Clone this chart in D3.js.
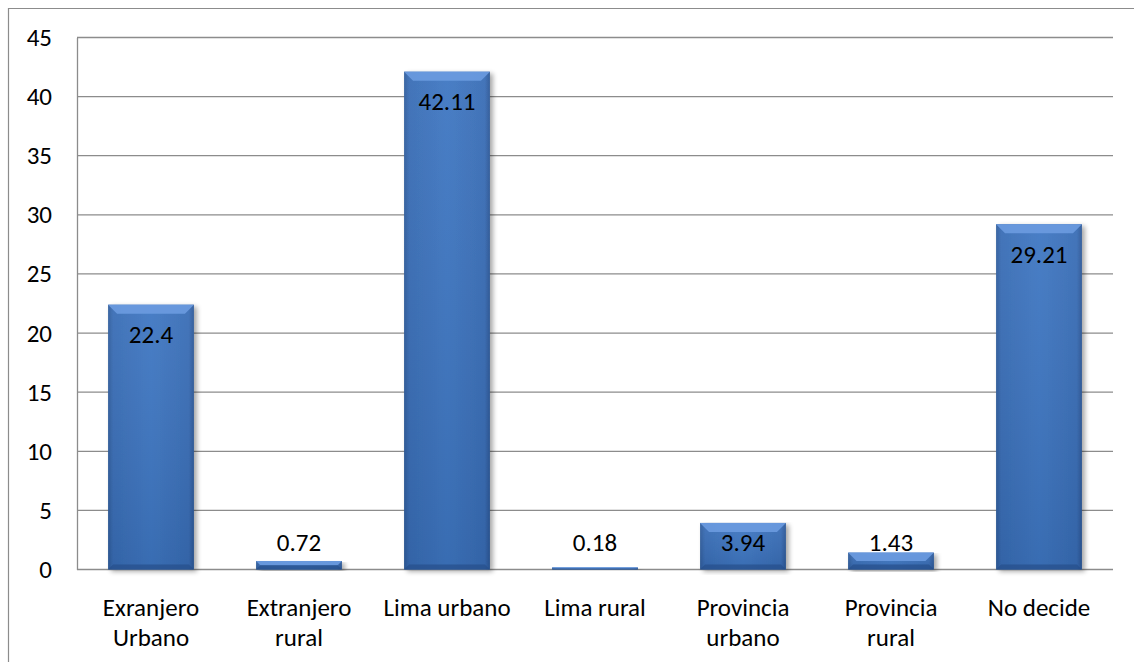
<!DOCTYPE html>
<html>
<head>
<meta charset="utf-8">
<script src="https://cdn.jsdelivr.net/npm/d3@7"></script>
<style>
  body { margin: 0; background: #fff; }
  svg { display: block; }
</style>
</head>
<body>
<div id="chart"></div>
<script>
// data
var categories = [ ['Exranjero', 'Urbano'], ['Extranjero', 'rural'], ['Lima urbano'], ['Lima rural'],
  ['Provincia', 'urbano'], ['Provincia', 'rural'], ['No decide'] ];
var values = [ 22.4, 0.72, 42.11, 0.18, 3.94, 1.43, 29.21 ];
var labels = [ '22.4', '0.72', '42.11', '0.18', '3.94', '1.43', '29.21' ];
var yTicks = [ 0, 5, 10, 15, 20, 25, 30, 35, 40, 45 ];

var W = 1134, H = 662;
var margin = { top: 37.5, right: 21, bottom: 92.5, left: 77 };
var fontFam = 'Carlito, Lato, sans-serif';
var fontSize = 25;
var gridColor = '#8c8c8c';

var svg = d3.select('#chart').append('svg')
  .attr('width', W).attr('height', H);

var defs = svg.append('defs');
var grad = defs.append('linearGradient').attr('id', 'barGrad')
  .attr('x1', '0').attr('x2', '1').attr('y1', '0').attr('y2', '0');
grad.append('stop').attr('offset', '0').attr('stop-color', '#2d5c9c');
grad.append('stop').attr('offset', '0.06').attr('stop-color', '#386cb5');
grad.append('stop').attr('offset', '0.5').attr('stop-color', '#3d76c2');
grad.append('stop').attr('offset', '0.94').attr('stop-color', '#386cb5');
grad.append('stop').attr('offset', '1').attr('stop-color', '#2b5796');

var vgrad = defs.append('linearGradient').attr('id', 'shadeGrad')
  .attr('x1', '0').attr('x2', '0').attr('y1', '0').attr('y2', '1');
vgrad.append('stop').attr('offset', '0').attr('stop-color', '#fff').attr('stop-opacity', 0.06);
vgrad.append('stop').attr('offset', '1').attr('stop-color', '#000').attr('stop-opacity', 0.08);

var shadow = defs.append('filter').attr('id', 'shadow')
  .attr('x', '-20%').attr('y', '-5%').attr('width', '150%').attr('height', '115%');
shadow.append('feGaussianBlur').attr('in', 'SourceAlpha').attr('stdDeviation', 2.5);
shadow.append('feOffset').attr('dx', 3).attr('dy', 2).attr('result', 'b');
shadow.append('feComponentTransfer').append('feFuncA').attr('type', 'linear').attr('slope', 0.35);
var merge = shadow.append('feMerge');
merge.append('feMergeNode');
merge.append('feMergeNode').attr('in', 'SourceGraphic');

// outer frame
svg.append('path')
  .attr('d', 'M8.5,' + H + ' V8.5 H' + W)
  .attr('fill', 'none').attr('stroke', '#8c8c8c').attr('stroke-width', 1.2);

var x = d3.scaleBand()
  .domain(d3.range(categories.length))
  .range([margin.left, W - margin.right])
  .paddingInner(0.42).paddingOuter(0.21);

var y = d3.scaleLinear()
  .domain([0, 45])
  .range([H - margin.bottom, margin.top]);

// gridlines
svg.append('g')
  .selectAll('line').data(yTicks).enter().append('line')
  .attr('x1', margin.left).attr('x2', W - margin.right)
  .attr('y1', function(d) { return y(d); }).attr('y2', function(d) { return y(d); })
  .attr('stroke', gridColor).attr('stroke-width', 1.3);

// y axis
var yAxis = svg.append('g')
  .attr('transform', 'translate(' + margin.left + ',0)')
  .call(d3.axisLeft(y).tickValues(yTicks).tickSize(0).tickPadding(25));
yAxis.select('.domain').attr('stroke', gridColor).attr('stroke-width', 1.3);
yAxis.selectAll('text')
  .attr('font-family', fontFam).attr('font-size', fontSize).attr('fill', '#000');

// bars
var bars = svg.append('g').selectAll('g.bar')
  .data(values).enter().append('g').attr('class', 'bar');

bars.append('rect')
  .attr('x', function(d, i) { return x(i); })
  .attr('y', function(d) { return y(d); })
  .attr('width', x.bandwidth())
  .attr('height', function(d) { return y(0) - y(d); })
  .attr('fill', 'url(#barGrad)')
  .attr('filter', 'url(#shadow)');

bars.append('rect')
  .attr('x', function(d, i) { return x(i); })
  .attr('y', function(d) { return y(d); })
  .attr('width', x.bandwidth())
  .attr('height', function(d) { return y(0) - y(d); })
  .attr('fill', 'url(#shadeGrad)');

// top bevel
bars.append('path')
  .attr('d', function(d, i) {
    var x0 = x(i), x1 = x(i) + x.bandwidth(), t = y(d);
    var h = Math.min(9, (y(0) - t) / 2);
    return 'M' + x0 + ',' + t + 'L' + x1 + ',' + t + 'L' + (x1 - h) + ',' + (t + h) +
      'L' + (x0 + h) + ',' + (t + h) + 'Z';
  })
  .attr('fill', '#6c9be0').attr('opacity', 0.9);

// bottom bevel
bars.append('path')
  .attr('d', function(d, i) {
    var x0 = x(i), x1 = x(i) + x.bandwidth(), b = y(0);
    var h = Math.min(5, (y(0) - y(d)) / 2);
    return 'M' + x0 + ',' + b + 'L' + x1 + ',' + b + 'L' + (x1 - h) + ',' + (b - h) +
      'L' + (x0 + h) + ',' + (b - h) + 'Z';
  })
  .attr('fill', '#264f8a').attr('opacity', 0.7);

// value labels
bars.append('text')
  .attr('x', function(d, i) { return x(i) + x.bandwidth() / 2; })
  .attr('y', function(d) { return Math.min(y(d) + 30, y(0) - 27); })
  .attr('dy', '0.35em')
  .attr('text-anchor', 'middle')
  .attr('font-family', fontFam).attr('font-size', fontSize).attr('fill', '#000')
  .text(function(d, i) { return labels[i]; });

// category labels
var cat = svg.append('g').selectAll('text')
  .data(categories).enter().append('text')
  .attr('text-anchor', 'middle')
  .attr('font-family', fontFam).attr('font-size', fontSize).attr('fill', '#000')
  .attr('x', function(d, i) { return x(i) + x.bandwidth() / 2; })
  .attr('y', y(0) + 46);
cat.selectAll('tspan').data(function(d) { return d; }).enter().append('tspan')
  .attr('x', function() { return d3.select(this.parentNode).attr('x'); })
  .attr('dy', function(d, i) { return i === 0 ? 0 : 30; })
  .text(function(d) { return d; });
</script>
</body>
</html>
